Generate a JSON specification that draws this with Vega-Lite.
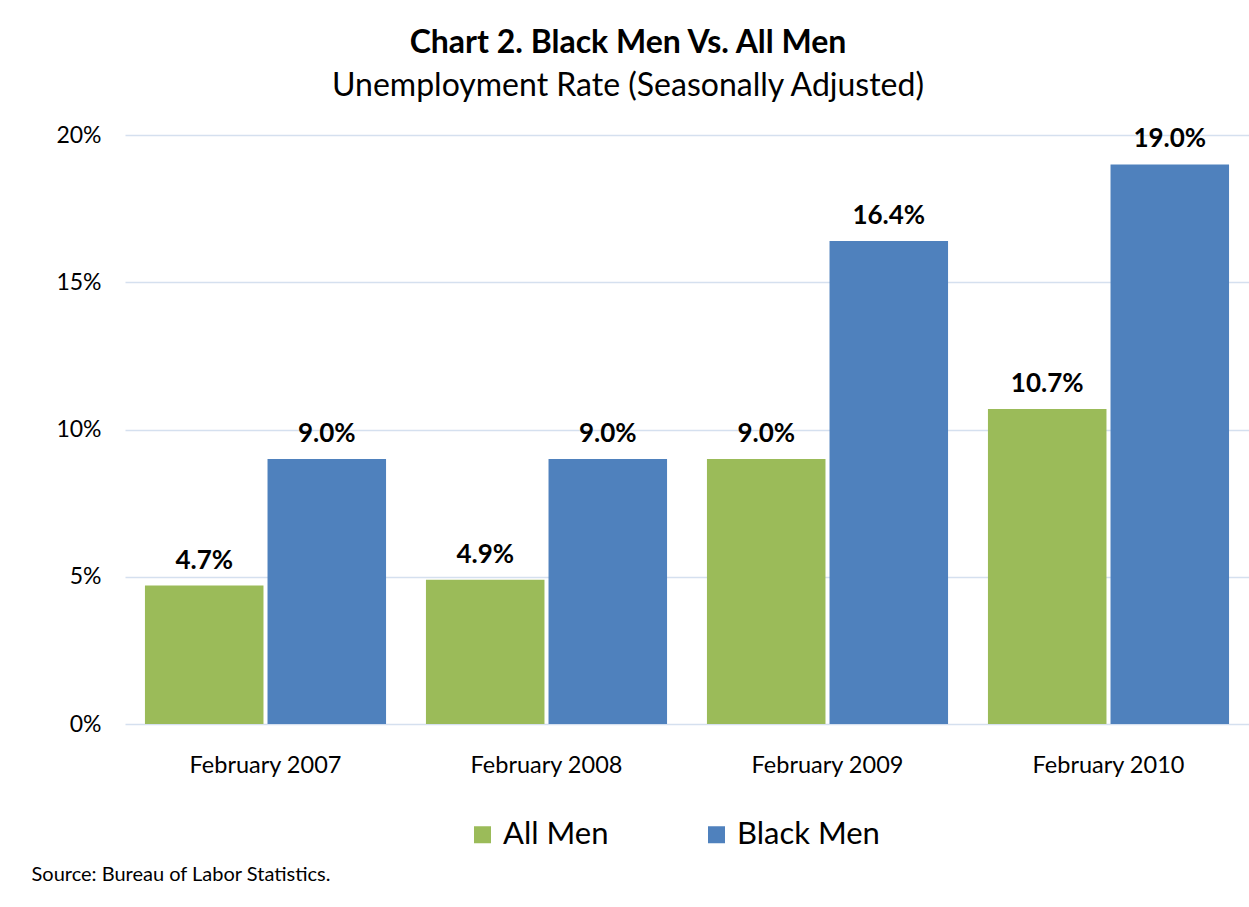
{
  "$schema": "https://vega.github.io/schema/vega-lite/v6.json",
  "width": 1124,
  "height": 589,
  "autosize": {"type": "none"},
  "padding": {"left": 125, "top": 135, "right": 0, "bottom": 183},
  "background": "white",
  "config": {"view": {"stroke": null}, "font": "Lato"},
  "title": {
    "text": "Chart 2. Black Men Vs. All Men",
    "subtitle": "Unemployment Rate (Seasonally Adjusted)",
    "font": "Lato",
    "fontSize": 32,
    "fontWeight": "bold",
    "color": "black",
    "subtitleFont": "Lato",
    "subtitleFontSize": 32,
    "subtitleColor": "black",
    "subtitlePadding": 11,
    "anchor": "middle",
    "dx": -59,
    "offset": 21
  },
  "data": {
    "values": [
      {"period": "February 2007", "group": "All Men", "rate": 0.047},
      {"period": "February 2007", "group": "Black Men", "rate": 0.090},
      {"period": "February 2008", "group": "All Men", "rate": 0.049},
      {"period": "February 2008", "group": "Black Men", "rate": 0.090},
      {"period": "February 2009", "group": "All Men", "rate": 0.090},
      {"period": "February 2009", "group": "Black Men", "rate": 0.164},
      {"period": "February 2010", "group": "All Men", "rate": 0.107},
      {"period": "February 2010", "group": "Black Men", "rate": 0.190}
    ]
  },
  "encoding": {
    "x": {
      "field": "period",
      "type": "nominal",
      "sort": null,
      "scale": {"paddingInner": 0.142, "paddingOuter": 0.071},
      "axis": {
        "title": "Source: Bureau of Labor Statistics.",
        "titleAnchor": "start",
        "titleAlign": "left",
        "titleX": -94,
        "titleY": 156,
        "titleBaseline": "alphabetic",
        "titleFont": "Lato",
        "titleFontSize": 20,
        "titleFontWeight": "normal",
        "titleColor": "black",
        "labelAngle": 0,
        "labelFont": "Lato",
        "labelFontSize": 23.5,
        "labelColor": "black",
        "labelPadding": 29,
        "ticks": false,
        "domain": false
      }
    },
    "xOffset": {
      "field": "group",
      "type": "nominal",
      "sort": ["All Men", "Black Men"],
      "scale": {"paddingInner": 0.033}
    },
    "y": {
      "field": "rate",
      "type": "quantitative",
      "scale": {"domain": [0, 0.2]},
      "axis": {
        "title": null,
        "format": ".0%",
        "values": [0, 0.05, 0.1, 0.15, 0.2],
        "labelFont": "Lato",
        "labelFontSize": 23,
        "labelColor": "black",
        "labelPadding": 24,
        "ticks": false,
        "domain": false,
        "gridColor": "#d5e0ef",
        "gridWidth": 1.5
      }
    }
  },
  "layer": [
    {
      "mark": {"type": "bar"},
      "encoding": {
        "color": {
          "field": "group",
          "type": "nominal",
          "sort": ["All Men", "Black Men"],
          "scale": {"domain": ["All Men", "Black Men"], "range": ["#9bbb59", "#4f81bd"]},
          "legend": {
            "title": null,
            "orient": "none",
            "legendX": 342,
            "legendY": 684,
            "direction": "horizontal",
            "labelFont": "Lato",
            "labelFontSize": 31,
            "labelColor": "black",
            "symbolType": "square",
            "symbolSize": 289,
            "symbolStrokeWidth": 0,
            "symbolOpacity": 1,
            "labelOffset": 5,
            "columnPadding": 92
          }
        }
      }
    },
    {
      "mark": {"type": "text", "dy": -17, "baseline": "alphabetic", "font": "Lato", "fontSize": 26, "fontWeight": "bold", "color": "black"},
      "encoding": {
        "text": {"field": "rate", "type": "quantitative", "format": ".1%"}
      }
    }
  ]
}
